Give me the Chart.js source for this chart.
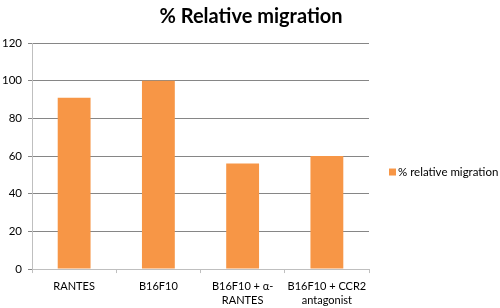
<!DOCTYPE html>
<html><head><meta charset="utf-8">
<script src="https://cdn.jsdelivr.net/npm/chart.js@4"></script>
<style>html,body{margin:0;padding:0;background:#fff}#w{width:500px;height:308px}</style>
</head><body><div id="w"><canvas id="c"></canvas></div>
<script>
const categories = [["RANTES"], ["B16F10"], ["B16F10 + α-", "RANTES"], ["B16F10 + CCR2", "antagonist"]];
const seriesName = "% relative migration";
const values = [91, 100, 56, 60];
const yTicks = [0, 20, 40, 60, 80, 100, 120];
const titleText = "% Relative migration";

const sideDecor = {
  id: 'sideDecor',
  afterDraw(chart) {
    const ctx = chart.ctx;
    const ds = chart.data.datasets[0];
    ctx.save();
    // title
    ctx.fillStyle = '#000';
    ctx.font = 'bold 20px Lato';
    ctx.textAlign = 'center';
    ctx.textBaseline = 'middle';
    ctx.fillText(titleText, chart.width / 2 + 1, 17);
    // legend
    const y = (chart.chartArea.top + chart.chartArea.bottom) / 2 + 16;
    ctx.fillStyle = ds.backgroundColor;
    ctx.fillRect(389, y - 3.5, 7, 7);
    ctx.fillStyle = '#000';
    ctx.font = '11.5px Lato';
    ctx.textAlign = 'left';
    ctx.fillText(ds.label, 398, y);
    ctx.restore();
  }
};

new Chart(document.getElementById('c'), {
  type: 'bar',
  data: { labels: categories, datasets: [{ label: seriesName, data: values, backgroundColor: '#F79646', borderWidth: 0, categoryPercentage: 1, barPercentage: 0.39 }] },
  options: {
    responsive: true, maintainAspectRatio: false, animation: false,
    layout: { padding: { left: -4, right: 131, top: 43, bottom: -5 } },
    plugins: {
      title: { display: false },
      legend: { display: false },
      tooltip: { enabled: false }
    },
    scales: {
      x: {
        grid: { display: true, offset: true, drawOnChartArea: false, drawTicks: true, tickLength: 4, color: '#BFBFBF' },
        border: { color: '#BFBFBF' },
        ticks: { color: '#000', font: { family: 'Lato', size: 11, lineHeight: 1.27 }, maxRotation: 0, autoSkip: false, padding: 6 }
      },
      y: {
        min: 0, max: 120,
        afterBuildTicks: (ax) => { ax.ticks = yTicks.map(v => ({ value: v })); },
        grid: { color: '#868686', tickLength: 4 },
        border: { color: '#BFBFBF', width: 1 },
        ticks: { color: '#000', font: { family: 'Lato', size: 11.5 }, padding: 6 }
      }
    }
  },
  plugins: [sideDecor]
});
</script></body></html>
